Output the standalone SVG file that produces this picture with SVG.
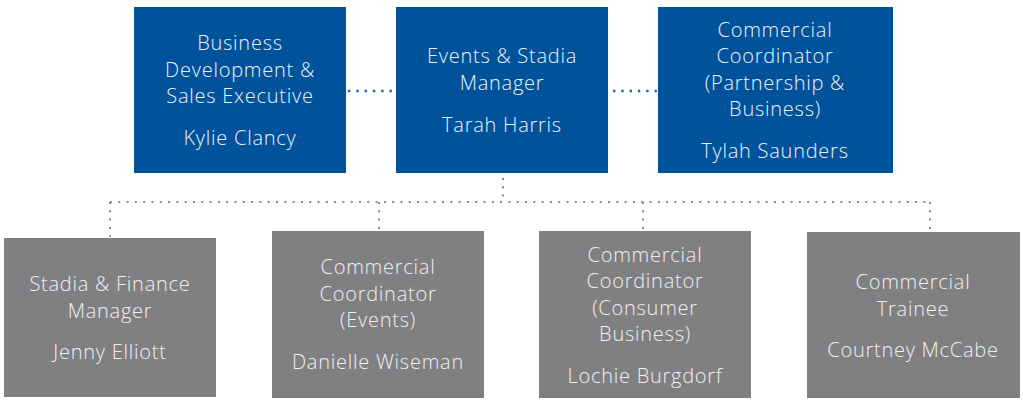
<svg xmlns="http://www.w3.org/2000/svg" width="1023" height="406" viewBox="0 0 1023 406">
<style>
.blue{fill:#00529b}
.grey{fill:#808083}
text{font-family:"Open Sans","Noto Sans",sans-serif;font-size:20px;letter-spacing:0.75px;font-weight:300;text-anchor:middle}
.tb{fill:#eef3f9}
.tg{fill:#f0f0f0}
.dotg{stroke:#8a8a8d;stroke-width:2;stroke-dasharray:2 6.3;fill:none}
.dotb{stroke:#1a62a8;stroke-width:2.4;stroke-dasharray:2.4 5.9;fill:none}
</style>
<rect width="1023" height="406" fill="#ffffff"/>
<g id="connectors">
<path class="dotb" d="M348 91H394"/>
<path class="dotb" d="M613 91H658"/>
<path class="dotg" d="M503 178V202"/>
<path class="dotg" d="M110 202H931"/>
<path class="dotg" d="M110 202V237"/>
<path class="dotg" d="M379 202V230"/>
<path class="dotg" d="M643 202V230"/>
<path class="dotg" d="M930 202V231"/>
</g>
<g id="node-kylie">
<rect class="blue" x="134" y="7" width="212" height="166"/>
<text class="tb" x="240" y="50">Business</text>
<text class="tb" x="240" y="77">Development &amp;</text>
<text class="tb" x="240" y="103">Sales Executive</text>
<text class="tb" x="240" y="145">Kylie Clancy</text>
</g>
<g id="node-tarah">
<rect class="blue" x="396" y="7" width="212" height="166"/>
<text class="tb" x="502" y="63">Events &amp; Stadia</text>
<text class="tb" x="502" y="90">Manager</text>
<text class="tb" x="502" y="132">Tarah Harris</text>
</g>
<g id="node-tylah">
<rect class="blue" x="658" y="7" width="235" height="166"/>
<text class="tb" x="775" y="37">Commercial</text>
<text class="tb" x="775" y="63">Coordinator</text>
<text class="tb" x="775" y="90">(Partnership &amp;</text>
<text class="tb" x="775" y="116">Business)</text>
<text class="tb" x="775" y="158">Tylah Saunders</text>
</g>
<g id="node-jenny">
<rect class="grey" x="4" y="238" width="212" height="159"/>
<text class="tg" x="110" y="291">Stadia &amp; Finance</text>
<text class="tg" x="110" y="318">Manager</text>
<text class="tg" x="110" y="359">Jenny Elliott</text>
</g>
<g id="node-danielle">
<rect class="grey" x="272" y="231" width="212" height="167"/>
<text class="tg" x="378" y="274">Commercial</text>
<text class="tg" x="378" y="301">Coordinator</text>
<text class="tg" x="378" y="327">(Events)</text>
<text class="tg" x="378" y="369">Danielle Wiseman</text>
</g>
<g id="node-lochie">
<rect class="grey" x="539" y="231" width="212" height="167"/>
<text class="tg" x="645" y="262">Commercial</text>
<text class="tg" x="645" y="288">Coordinator</text>
<text class="tg" x="645" y="315">(Consumer</text>
<text class="tg" x="645" y="341">Business)</text>
<text class="tg" x="645" y="383">Lochie Burgdorf</text>
</g>
<g id="node-courtney">
<rect class="grey" x="807" y="232" width="213" height="166"/>
<text class="tg" x="913" y="289">Commercial</text>
<text class="tg" x="913" y="316">Trainee</text>
<text class="tg" x="913" y="357">Courtney McCabe</text>
</g>
</svg>
